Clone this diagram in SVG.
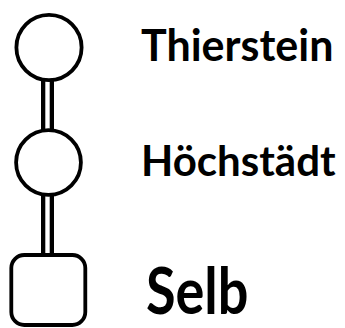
<svg xmlns="http://www.w3.org/2000/svg" width="345" height="328" viewBox="0 0 345 328">
<style>
.node{fill:#fff;stroke:#000;stroke-width:3.8}
.rail-o{stroke:#000;stroke-width:13;fill:none}
.rail-i{stroke:#fff;stroke-width:4.4;fill:none}
.lbl{font-family:Lato,"Open Sans","Liberation Sans",sans-serif;font-weight:bold;fill:#000}
</style>
<rect width="345" height="328" fill="#fff"/>
<g id="connectors">
<line class="rail-o" x1="47.5" y1="78" x2="47.5" y2="132"/>
<line class="rail-i" x1="47.5" y1="78" x2="47.5" y2="132"/>
<line class="rail-o" x1="47.5" y1="193" x2="47.5" y2="257"/>
<line class="rail-i" x1="47.5" y1="193" x2="47.5" y2="257"/>
</g>
<g id="thierstein">
<circle class="node" cx="49" cy="47.5" r="32.6"/>
<text class="lbl" x="141" y="61" font-size="43">Thierstein</text>
</g>
<g id="hoechstaedt">
<circle class="node" cx="48.5" cy="162.5" r="32.4"/>
<text class="lbl" x="141" y="176" font-size="42">Höchstädt</text>
</g>
<g id="selb">
<rect class="node" x="11.3" y="255" width="74" height="70" rx="13"/>
<text class="lbl" transform="translate(146,314) scale(1,1.19)" font-size="54">Selb</text>
</g>
</svg>
